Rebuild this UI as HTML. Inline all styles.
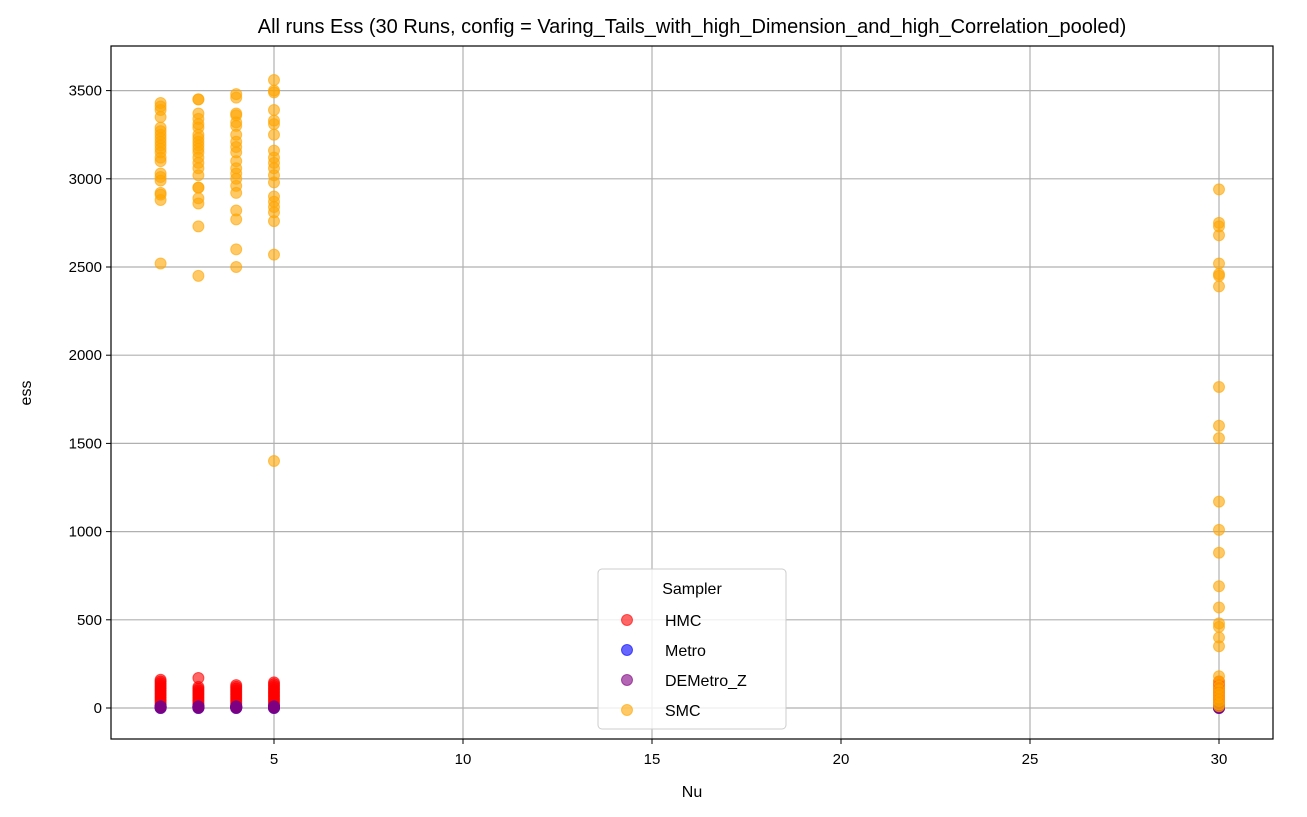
<!DOCTYPE html>
<html><head><meta charset="utf-8"><style>
html,body{margin:0;padding:0;background:#fff;}
svg{display:block;font-family:"Liberation Sans","DejaVu Sans",sans-serif;}
</style></head><body>
<svg id="chart" width="1307" height="817" viewBox="0 0 1307 817">
<text x="692" y="33" text-anchor="middle" font-size="20" fill="#000">All runs Ess (30 Runs, config = Varing_Tails_with_high_Dimension_and_high_Correlation_pooled)</text>
<g id="grid"></g>
<g id="marks"></g>
<rect x="111" y="46" width="1162" height="693" fill="none" stroke="#000" stroke-width="1.2"/>
<g id="ticks"></g>
<text x="692" y="797" text-anchor="middle" font-size="16">Nu</text>
<text x="31" y="393" text-anchor="middle" font-size="16" transform="rotate(-90 31 393)">ess</text>
<g id="legend">
<rect x="598" y="569" width="188" height="160" rx="4" fill="#fff" fill-opacity="0.8" stroke="#ccc"/>
<text x="692" y="594" text-anchor="middle" font-size="16">Sampler</text>
</g>
</svg>
<script>
const xTicks=[5,10,15,20,25,30];
const yTicks=[0,500,1000,1500,2000,2500,3000,3500];
const samplers=["HMC","Metro","DEMetro_Z","SMC"];
const colors=["#ff0000","#0000ff","#800080","#ffa500"];
const nuValues=[2,3,4,5,30];
const smc2=[3430,3410,3390,3350,3290,3270,3250,3230,3210,3190,3170,3150,3120,3100,3030,3010,2990,2920,2910,2880,2520];
const smc3=[3450,3450,3370,3340,3310,3290,3250,3230,3210,3190,3170,3150,3120,3090,3060,3020,2950,2950,2890,2860,2730,2450];
const smc4=[3480,3460,3370,3360,3320,3300,3250,3210,3180,3150,3100,3060,3030,3000,2960,2920,2820,2770,2600,2500];
const smc5=[3560,3500,3490,3390,3330,3310,3250,3160,3120,3090,3060,3020,2980,2900,2870,2840,2810,2760,2570,1400];
const smc30=[2940,2750,2730,2680,2520,2460,2450,2390,1820,1600,1530,1170,1010,880,690,570,480,460,400,350,180,150,120,100,80,60,40,20,10];
const hmc2=[160,150,140,130,120,110,100,90,80,70,60,50,40,30,20,10];
const hmc3=[170,120,110,100,90,80,70,60,50,40,30,20,10];
const hmc4=[130,120,110,100,90,80,70,60,50,40,30,20,10];
const hmc5=[145,135,125,115,105,95,85,75,65,55,45,35,25,15];
const hmc30=[150,130,110,90,70,50,30,10];
const metroVals=[0,2,5,8];
const demetroVals=[0,3,6,10];
const xScale=v=>85+v*37.8;
const yScale=v=>708-v*0.1764;
const NS="http://www.w3.org/2000/svg";
function mk(tag,attrs,parent){const e=document.createElementNS(NS,tag);for(const k in attrs)e.setAttribute(k,attrs[k]);parent.appendChild(e);return e;}
const grid=document.getElementById('grid'),ticks=document.getElementById('ticks'),marks=document.getElementById('marks');
xTicks.forEach(t=>{const x=xScale(t);
 const g=mk('line',{x1:x,x2:x,y1:46,y2:739,stroke:'#b0b0b0','stroke-width':1.2},grid);
 
 
 mk('line',{x1:x,x2:x,y1:739,y2:744,stroke:'#000'},ticks);
 const l=mk('text',{x:x,y:764,'text-anchor':'middle','font-size':15},ticks);l.textContent=t;
 
 });
yTicks.forEach(t=>{const y=yScale(t);
 const g=mk('line',{x1:111,x2:1273,y1:y,y2:y,stroke:'#b0b0b0','stroke-width':1.2},grid);
 
 
 mk('line',{x1:106,x2:111,y1:y,y2:y,stroke:'#000'},ticks);
 const l=mk('text',{x:102,y:y+5,'text-anchor':'end','font-size':15},ticks);l.textContent=t;
 
 });
const smcSets=[smc2,smc3,smc4,smc5,smc30];
const hmcSets=[hmc2,hmc3,hmc4,hmc5,hmc30];
function dot(nu,v,ci,name){const c=mk('circle',{cx:xScale(nu),cy:yScale(v),r:5.5,fill:colors[ci],'fill-opacity':0.6,stroke:colors[ci],'stroke-opacity':0.6},marks);
 
 }
nuValues.forEach((nu,i)=>{
 hmcSets[i].forEach(v=>dot(nu,v,0,'hmc-point'));
 metroVals.forEach(v=>dot(nu,v,1,'metro-point'));
 demetroVals.forEach(v=>dot(nu,v,2,'demetro-point'));
 smcSets[i].forEach(v=>dot(nu,v,3,'smc-point'));
});
const leg=document.getElementById('legend');
samplers.forEach((s,i)=>{const y=620+i*30;
 const c=mk('circle',{cx:627,cy:y,r:5.5,fill:colors[i],'fill-opacity':0.6,stroke:colors[i],'stroke-opacity':0.6},leg);
 
 
 const t=mk('text',{x:665,y:y+6,'font-size':16},leg);t.textContent=s;
 
 });
</script>
</body></html>
